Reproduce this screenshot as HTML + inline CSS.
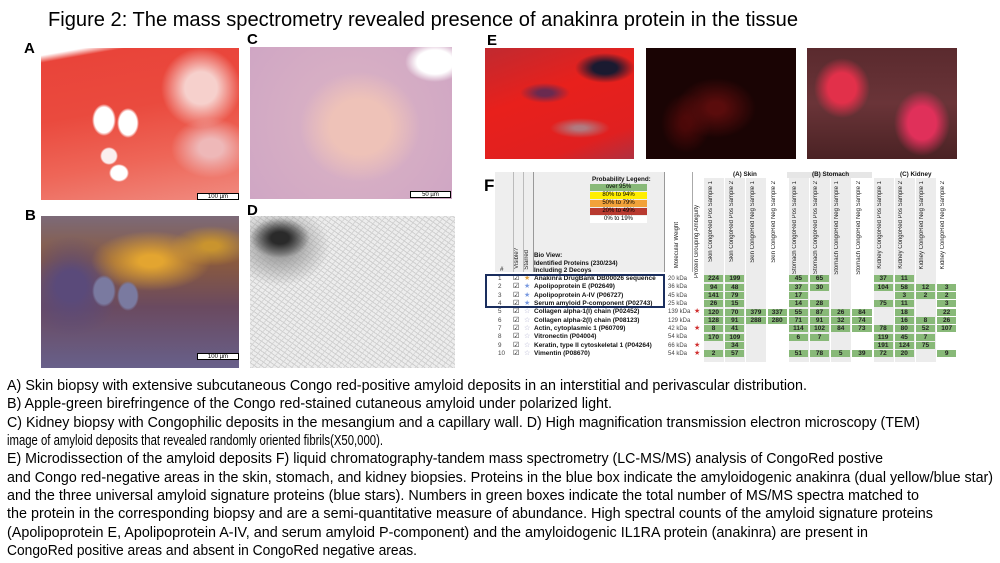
<!DOCTYPE html>
<html><head><meta charset="utf-8"><style>
*{margin:0;padding:0;box-sizing:border-box}
body{width:1000px;height:563px;background:#fff;position:relative;overflow:hidden;font-family:"Liberation Sans",sans-serif}
.abs{position:absolute}
.lbl{position:absolute;font-weight:bold;font-size:15px}
.img{position:absolute;overflow:hidden}
.sb{position:absolute;background:#fff;border:1px solid #000;font-size:6px;text-align:center;line-height:6px}
.t{position:absolute;font-size:6.3px;color:#111;white-space:nowrap}
.row{position:absolute;left:703px;display:grid;grid-template-columns:repeat(12,21.2px);height:7px}
.row i,.row b{display:block;height:7px;margin:0 1px;font-style:normal;font-weight:bold;font-size:6.5px;line-height:7px;text-align:center;color:#222}
.row i{background:#88b978}
.vh{position:absolute;writing-mode:vertical-rl;transform:rotate(180deg);font-size:6px;color:#222;white-space:nowrap}
.gc{position:absolute;top:178px;width:20px;height:184px;background:#ececec}
</style></head><body>

<svg class="abs" style="left:0;top:0" width="1000" height="563">
<text x="48" y="26" font-size="20" textLength="750" lengthAdjust="spacingAndGlyphs" fill="#000">Figure 2: The mass spectrometry revealed presence of anakinra protein in the tissue</text>
<g font-size="14.5" fill="#000">
<text x="7" y="390" textLength="800" lengthAdjust="spacingAndGlyphs">A) Skin biopsy with extensive subcutaneous Congo red-positive amyloid deposits in an interstitial and perivascular distribution.</text>
<text x="7" y="408" textLength="605" lengthAdjust="spacingAndGlyphs">B) Apple-green birefringence of the Congo red-stained cutaneous amyloid under polarized light.</text>
<text x="7" y="427" textLength="913" lengthAdjust="spacingAndGlyphs">C) Kidney biopsy with Congophilic deposits in the mesangium and a capillary wall. D) High magnification transmission electron microscopy (TEM)</text>
<text x="7" y="445" textLength="376" lengthAdjust="spacingAndGlyphs">image of amyloid deposits that revealed randomly oriented fibrils(X50,000).</text>
<text x="7" y="463" textLength="876" lengthAdjust="spacingAndGlyphs">E) Microdissection of the amyloid deposits F) liquid chromatography-tandem mass spectrometry (LC-MS/MS) analysis of CongoRed postive</text>
<text x="7" y="482" textLength="986" lengthAdjust="spacingAndGlyphs">and Congo red-negative areas in the skin, stomach, and kidney biopsies. Proteins in the blue box indicate the amyloidogenic anakinra (dual yellow/blue star)</text>
<text x="7" y="500" textLength="912" lengthAdjust="spacingAndGlyphs">and the three universal amyloid signature proteins (blue stars). Numbers in green boxes indicate the total number of MS/MS spectra matched to</text>
<text x="7" y="518" textLength="926" lengthAdjust="spacingAndGlyphs">the protein in the corresponding biopsy and are a semi-quantitative measure of abundance. High spectral counts of the amyloid signature proteins</text>
<text x="7" y="537" textLength="861" lengthAdjust="spacingAndGlyphs">(Apolipoprotein E, Apolipoprotein A-IV, and serum amyloid P-component) and the amyloidogenic IL1RA protein (anakinra) are present in</text>
<text x="7" y="555" textLength="410" lengthAdjust="spacingAndGlyphs">CongoRed positive areas and absent in CongoRed negative areas.</text>
</g>
</svg>

<div class="lbl" style="left:24px;top:40px">A</div>
<div class="lbl" style="left:25px;top:207px">B</div>
<div class="lbl" style="left:247px;top:31px">C</div>
<div class="lbl" style="left:247px;top:202px">D</div>
<div class="lbl" style="left:487px;top:32px">E</div>
<div class="lbl" style="left:484px;top:176px;font-size:17px">F</div>

<!-- A -->
<div class="img" style="left:41px;top:48px;width:198px;height:152px;background:
radial-gradient(ellipse 12px 16px at 63px 72px,#fff 80%,transparent 100%),
radial-gradient(ellipse 11px 15px at 87px 75px,#fff 80%,transparent 100%),
radial-gradient(ellipse 10px 9px at 78px 125px,#fff 80%,transparent 100%),
radial-gradient(ellipse 9px 9px at 68px 108px,#fbeeee 80%,transparent 100%),
radial-gradient(ellipse 40px 40px at 160px 40px,#f6d0cc 40%,transparent 100%),
radial-gradient(ellipse 40px 30px at 170px 100px,#eeb8b8 30%,transparent 100%),
linear-gradient(170deg,#fff 0%,#fff 4%,#e9443a 8%,#ea4a3e 40%,#ee6658 70%,#f08b80 100%)"></div>
<div class="sb" style="left:197px;top:193px;width:42px;height:7px">100 µm</div>
<!-- B -->
<div class="img" style="left:41px;top:216px;width:198px;height:152px;background:
radial-gradient(ellipse 12px 16px at 63px 75px,#7a7aa0 80%,transparent 100%),
radial-gradient(ellipse 11px 15px at 87px 80px,#7a7aa0 80%,transparent 100%),
radial-gradient(ellipse 60px 30px at 110px 45px,#e3a530 20%,transparent 100%),
radial-gradient(ellipse 40px 20px at 170px 30px,#c9942e 20%,transparent 100%),
radial-gradient(ellipse 50px 50px at 30px 70px,#5a4a7a 30%,transparent 100%),
linear-gradient(180deg,#7c6a78 0%,#8a5a3e 30%,#6a4a60 60%,#68608a 100%)"></div>
<div class="sb" style="left:197px;top:353px;width:42px;height:7px">100 µm</div>
<!-- C -->
<div class="img" style="left:250px;top:47px;width:202px;height:152px;background:
radial-gradient(ellipse 20px 20px at 142px 210px,#fff 80%,transparent 100%),
radial-gradient(ellipse 60px 55px at 110px 80px,#eec2b8 50%,transparent 100%),
radial-gradient(ellipse 30px 20px at 185px 15px,#fff 60%,transparent 100%),
radial-gradient(circle at 50% 50%,#dcb4c4 0%,#cfa6c4 100%)"></div>
<div class="sb" style="left:410px;top:191px;width:41px;height:7px">50 µm</div>
<!-- D -->
<div class="img" style="left:250px;top:216px;width:205px;height:152px;background:
radial-gradient(ellipse 30px 20px at 30px 22px,#2a2a2a 30%,transparent 100%),
radial-gradient(ellipse 50px 40px at 30px 30px,#9a9a9a 20%,transparent 100%),
repeating-linear-gradient(35deg,#cfcfcf 0 1px,transparent 1px 4px),
repeating-linear-gradient(-50deg,#d6d6d6 0 1px,transparent 1px 5px),
#ededed"></div>
<!-- E -->
<div class="img" style="left:485px;top:48px;width:149px;height:111px;background:
radial-gradient(ellipse 30px 15px at 120px 20px,#1a1a30 40%,transparent 100%),
radial-gradient(ellipse 25px 10px at 60px 45px,#6a2a50 30%,transparent 100%),
radial-gradient(ellipse 30px 10px at 95px 80px,#b07a80 20%,transparent 100%),
linear-gradient(160deg,#c02a30 0%,#e8201c 40%,#e02020 80%,#b03040 100%)"></div>
<div class="img" style="left:646px;top:48px;width:150px;height:111px;background:
radial-gradient(ellipse 40px 30px at 70px 60px,#5a0c0c 20%,transparent 100%),
radial-gradient(ellipse 25px 30px at 40px 75px,#4a0808 20%,transparent 100%),
#1a0404"></div>
<div class="img" style="left:807px;top:48px;width:150px;height:111px;background:
radial-gradient(ellipse 28px 30px at 35px 40px,#e2304a 50%,transparent 100%),
radial-gradient(ellipse 28px 33px at 115px 75px,#e0305a 50%,transparent 100%),
linear-gradient(180deg,#5a2a2e,#6a3438 50%,#4a2224)"></div>

<!-- F table -->
<div class="abs" style="left:495px;top:172px;width:170px;height:100px;background:#eee"></div>
<div class="abs" style="left:513px;top:172px;width:1px;height:100px;background:#bbb"></div>
<div class="abs" style="left:523px;top:172px;width:1px;height:100px;background:#bbb"></div>
<div class="abs" style="left:533px;top:172px;width:1px;height:100px;background:#999"></div>
<div class="abs" style="left:664px;top:172px;width:1px;height:100px;background:#999"></div>
<div class="abs" style="left:692px;top:172px;width:1px;height:100px;background:#aaa"></div>

<div class="t" style="left:592px;top:176px;font-weight:bold">Probability Legend:</div>
<div class="abs" style="left:590px;top:184px;width:57px;height:7px;background:#88b978;font-size:6px;text-align:center;line-height:7px">over 95%</div>
<div class="abs" style="left:590px;top:192px;width:57px;height:7px;background:#ffee00;font-size:6px;text-align:center;line-height:7px">80% to 94%</div>
<div class="abs" style="left:590px;top:200px;width:57px;height:7px;background:#f2a23a;font-size:6px;text-align:center;line-height:7px">50% to 79%</div>
<div class="abs" style="left:590px;top:208px;width:57px;height:7px;background:#b83a30;font-size:6px;text-align:center;line-height:7px">20% to 49%</div>
<div class="abs" style="left:590px;top:216px;width:57px;height:7px;background:#fff;font-size:6px;text-align:center;line-height:7px">0% to 19%</div>
<div class="t" style="left:534px;top:252px;font-weight:bold;line-height:7.5px">Bio View:<br>Identified Proteins (230/234)<br>Including 2 Decoys</div>
<div class="t" style="left:500px;top:266px">#</div>
<div class="vh" style="left:514px;top:248px">Visible?</div>
<div class="vh" style="left:524px;top:250px">Starred</div>
<div class="vh" style="left:674px;top:222px">Molecular Weight</div>
<div class="vh" style="left:694px;top:205px">Protein Grouping Ambiguity</div>

<div class="gc" style="left:704px"></div><div class="gc" style="left:725px"></div><div class="gc" style="left:746px"></div>
<div class="gc" style="left:789px"></div><div class="gc" style="left:810px"></div><div class="gc" style="left:831px"></div>
<div class="gc" style="left:874px"></div><div class="gc" style="left:895px"></div><div class="gc" style="left:916px"></div>
<div class="abs" style="left:787px;top:172px;width:85px;height:6px;background:#e6e6e6"></div>
<div class="t" style="left:733px;top:171px;font-weight:bold">(A) Skin</div>
<div class="t" style="left:812px;top:171px;font-weight:bold">(B) Stomach</div>
<div class="t" style="left:900px;top:171px;font-weight:bold">(C) Kidney</div>

<div class="vh" style="left:708px;top:181px">Skin CongoRed Pos Sample 1</div>
<div class="vh" style="left:729px;top:181px">Skin CongoRed Pos Sample 2</div>
<div class="vh" style="left:750px;top:181px">Skin CongoRed Neg Sample 1</div>
<div class="vh" style="left:771px;top:181px">Skin CongoRed Neg Sample 2</div>
<div class="vh" style="left:792px;top:181px">Stomach CongoRed Pos Sample 1</div>
<div class="vh" style="left:813px;top:181px">Stomach CongoRed Pos Sample 2</div>
<div class="vh" style="left:834px;top:181px">Stomach CongoRed Neg Sample 1</div>
<div class="vh" style="left:856px;top:181px">Stomach CongoRed Neg Sample 2</div>
<div class="vh" style="left:877px;top:181px">Kidney CongoRed Pos Sample 1</div>
<div class="vh" style="left:898px;top:181px">Kidney CongoRed Pos Sample 2</div>
<div class="vh" style="left:919px;top:181px">Kidney CongoRed Neg Sample 1</div>
<div class="vh" style="left:940px;top:181px">Kidney CongoRed Neg Sample 2</div>

<!-- left columns -->
<div class="t" style="left:498px;top:275px;line-height:8.35px;color:#444">1<br>2<br>3<br>4<br>5<br>6<br>7<br>8<br>9<br>10</div>
<div class="t" style="left:513px;top:275px;line-height:8.35px;font-size:7px">☑<br>☑<br>☑<br>☑<br>☑<br>☑<br>☑<br>☑<br>☑<br>☑</div>
<div class="t" style="left:524px;top:275px;line-height:8.35px;font-size:7px;color:#7a9ae0"><span style="color:#e0a040">★</span><br>★<br>★<br>★<br><span style="color:#aac">☆</span><br><span style="color:#aac">☆</span><br><span style="color:#aac">☆</span><br><span style="color:#aac">☆</span><br><span style="color:#aac">☆</span><br><span style="color:#aac">☆</span></div>
<div class="t" style="left:534px;top:275px;line-height:8.35px;font-weight:bold;font-size:6.5px">Anakinra DrugBank DB00026 sequence<br>Apolipoprotein E (P02649)<br>Apolipoprotein A-IV (P06727)<br>Serum amyloid P-component (P02743)<br>Collagen alpha-1(I) chain (P02452)<br>Collagen alpha-2(I) chain (P08123)<br>Actin, cytoplasmic 1 (P60709)<br>Vitronectin (P04004)<br>Keratin, type II cytoskeletal 1 (P04264)<br>Vimentin (P08670)</div>
<div class="t" style="left:668px;top:275px;line-height:8.35px;color:#444;font-size:6px">20 kDa<br>36 kDa<br>45 kDa<br>25 kDa<br>139 kDa<br>129 kDa<br>42 kDa<br>54 kDa<br>66 kDa<br>54 kDa</div>
<div class="t" style="left:694px;top:275px;line-height:8.35px;color:#d03030;font-size:7px"><br><br><br><br>★<br><br>★<br><br>★<br>★</div>
<div class="abs" style="left:485px;top:274px;width:180px;height:34px;border:2px solid #1a2e5e"></div>

<div class="row" style="top:275px"><i>224</i><i>199</i><b></b><b></b><i>45</i><i>65</i><b></b><b></b><i>37</i><i>11</i><b></b><b></b></div>
<div class="row" style="top:283.5px"><i>94</i><i>48</i><b></b><b></b><i>37</i><i>30</i><b></b><b></b><i>104</i><i>58</i><i>12</i><i>3</i></div>
<div class="row" style="top:291.8px"><i>141</i><i>79</i><b></b><b></b><i>17</i><b></b><b></b><b></b><b></b><i>3</i><i>2</i><i>2</i></div>
<div class="row" style="top:300.2px"><i>26</i><i>15</i><b></b><b></b><i>14</i><i>28</i><b></b><b></b><i>75</i><i>11</i><b></b><i>3</i></div>
<div class="row" style="top:308.5px"><i>120</i><i>70</i><i>379</i><i>337</i><i>55</i><i>87</i><i>26</i><i>84</i><b></b><i>18</i><b></b><i>22</i></div>
<div class="row" style="top:316.9px"><i>128</i><i>91</i><i>288</i><i>280</i><i>71</i><i>91</i><i>32</i><i>74</i><b></b><i>16</i><i>8</i><i>26</i></div>
<div class="row" style="top:325.2px"><i>8</i><i>41</i><b></b><b></b><i>114</i><i>102</i><i>84</i><i>73</i><i>78</i><i>80</i><i>52</i><i>107</i></div>
<div class="row" style="top:333.6px"><i>170</i><i>109</i><b></b><b></b><i>6</i><i>7</i><b></b><b></b><i>119</i><i>45</i><i>7</i><b></b></div>
<div class="row" style="top:341.9px"><b></b><i>34</i><b></b><b></b><b></b><b></b><b></b><b></b><i>191</i><i>124</i><i>75</i><b></b></div>
<div class="row" style="top:350.3px"><i>2</i><i>57</i><b></b><b></b><i>51</i><i>78</i><i>5</i><i>39</i><i>72</i><i>20</i><b></b><i>9</i></div>

</body></html>
